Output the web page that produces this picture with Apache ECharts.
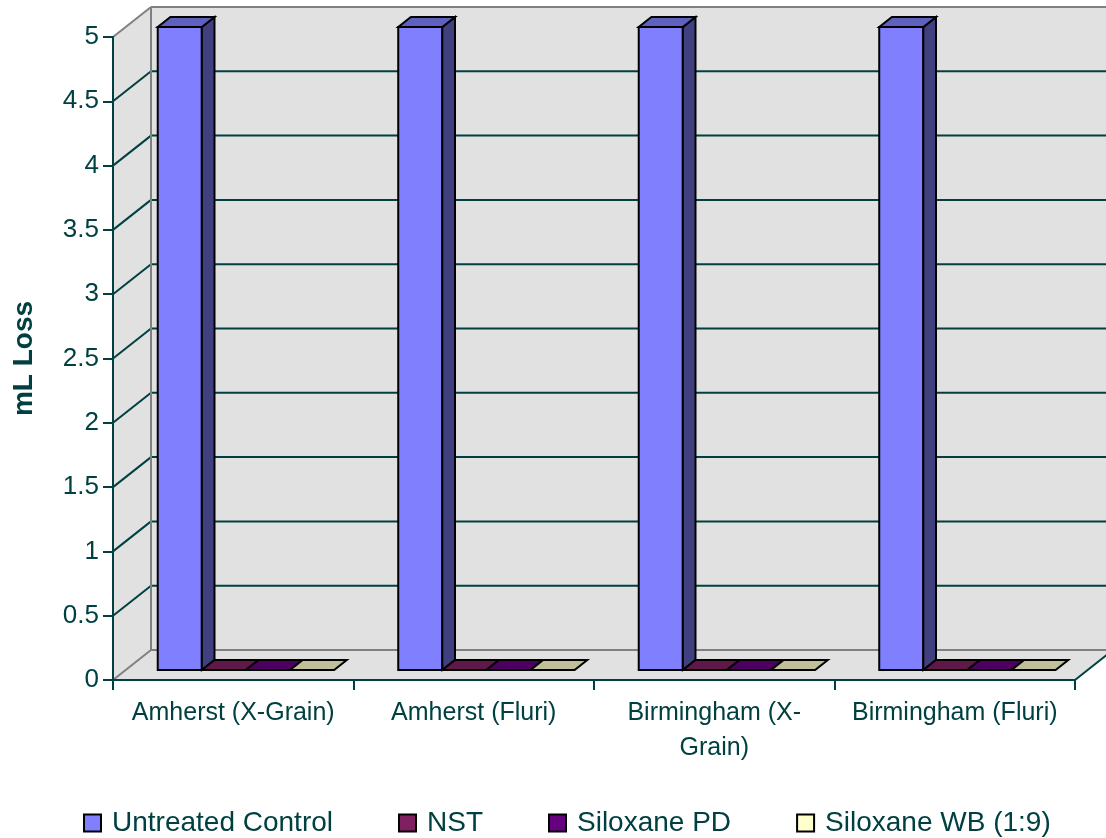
<!DOCTYPE html>
<html>
<head>
<meta charset="utf-8">
<script src="https://cdn.jsdelivr.net/npm/echarts@6/dist/echarts.min.js"></script>
<style>html,body{margin:0;padding:0;background:#fff}#c{width:1106px;height:838px}</style>
</head>
<body>
<div id="c"></div>
<script>
// ---- data ----
const categories = ['Amherst (X-Grain)', 'Amherst (Fluri)', 'Birmingham (X-\nGrain)', 'Birmingham (Fluri)'];
const seriesNames = ['Untreated Control', 'NST', 'Siloxane PD', 'Siloxane WB (1:9)'];
const untreatedControl = [5, 5, 5, 5];
const nst = [0, 0, 0, 0];
const siloxanePD = [0, 0, 0, 0];
const siloxaneWB = [0, 0, 0, 0];
const yTicks = [0, 0.5, 1, 1.5, 2, 2.5, 3, 3.5, 4, 4.5, 5];

// ---- style ----
const seriesColors = ['#8080FF', '#802060', '#660080', '#FFFFCC'];
const TEXT = '#004040';
const FONT = "'Liberation Sans', Arial, sans-serif";
const DX = 38, DY = -30;
const WALL = '#e1e1e1', EDGE = '#808080';

function shade(hex, f) {
  const n = parseInt(hex.slice(1), 16);
  const r = Math.round(((n >> 16) & 255) * f), g = Math.round(((n >> 8) & 255) * f), b = Math.round((n & 255) * f);
  return 'rgb(' + r + ',' + g + ',' + b + ')';
}

function wallsRender(params, api) {
  const cs = params.coordSys;
  const x0 = cs.x, x1 = cs.x + cs.width;
  const yb = api.coord([0, yTicks[0]])[1];
  const yt = api.coord([0, yTicks[yTicks.length - 1]])[1];
  const children = [];
  children.push({type: 'polygon', shape: {points: [[x0 + DX, yt + DY], [x1 + DX, yt + DY], [x1 + DX, yb + DY], [x0 + DX, yb + DY]]}, style: {fill: WALL, stroke: null}});
  children.push({type: 'polygon', shape: {points: [[x0, yt], [x0 + DX, yt + DY], [x0 + DX, yb + DY], [x0, yb]]}, style: {fill: WALL, stroke: null}});
  children.push({type: 'polygon', shape: {points: [[x0, yb], [x0 + DX, yb + DY], [x1 + DX, yb + DY], [x1, yb]]}, style: {fill: WALL, stroke: null}});
  yTicks.forEach(function (t, i) {
    const y = api.coord([0, t])[1];
    const edge = (i === 0 || i === yTicks.length - 1);
    const col = edge ? EDGE : TEXT;
    children.push({type: 'line', shape: {x1: x0, y1: y, x2: x0 + DX, y2: y + DY}, style: {stroke: col, lineWidth: 2}});
    children.push({type: 'line', shape: {x1: x0 + DX, y1: y + DY, x2: x1 + DX, y2: y + DY}, style: {stroke: col, lineWidth: 2}});
  });
  children.push({type: 'line', shape: {x1: x0 + DX, y1: yt + DY, x2: x0 + DX, y2: yb + DY}, style: {stroke: EDGE, lineWidth: 2}});
  children.push({type: 'line', shape: {x1: x1, y1: yb, x2: x1 + DX, y2: yb + DY}, style: {stroke: TEXT, lineWidth: 2}});
  return {type: 'group', children: children};
}

function barRender(s) {
  return function (params, api) {
    const ci = api.value(0), v = api.value(1);
    const top = api.coord([ci, v]);
    const base = api.coord([ci, 0]);
    const band = api.size([1, 0])[0];
    const w = band * 44 / 240;
    const fx = DX / 3, fy = DY / 3;
    const xl = base[0] - 2 * w + s * w + fx;
    const xr = xl + w;
    const yb = base[1] + fy;
    const yt = top[1] + fy;
    const col = seriesColors[s];
    const st = {stroke: '#000', lineWidth: 2, lineJoin: 'miter'};
    const children = [];
    if (yb - yt > 0.5) {
      children.push({type: 'polygon', shape: {points: [[xl, yt], [xr, yt], [xr, yb], [xl, yb]]}, style: Object.assign({fill: col}, st)});
      children.push({type: 'polygon', shape: {points: [[xr, yt], [xr + fx, yt + fy], [xr + fx, yb + fy], [xr, yb]]}, style: Object.assign({fill: shade(col, 0.5)}, st)});
    }
    children.push({type: 'polygon', shape: {points: [[xl, yt], [xr, yt], [xr + fx, yt + fy], [xl + fx, yt + fy]]}, style: Object.assign({fill: shade(col, 0.75)}, st)});
    return {type: 'group', children: children};
  };
}

const seriesData = [untreatedControl, nst, siloxanePD, siloxaneWB];
const series = [{
  type: 'custom', name: '_walls', z: 1, silent: true,
  renderItem: wallsRender, data: [[0, 0]], encode: {x: 0, y: 1}, legendHoverLink: false
}];
seriesData.forEach(function (arr, s) {
  series.push({
    type: 'custom', name: seriesNames[s], z: 3,
    itemStyle: {color: seriesColors[s], borderColor: '#000', borderWidth: 2},
    renderItem: barRender(s),
    encode: {x: 0, y: 1},
    data: arr.map(function (v, i) { return [i, v]; })
  });
});

const chart = echarts.init(document.getElementById('c'), null, {renderer: 'canvas'});
chart.setOption({
  animation: false,
  backgroundColor: '#ffffff',
  textStyle: {fontFamily: FONT},
  grid: {left: 113, right: 31, top: 37, bottom: 158, containLabel: false, outerBoundsMode: 'none'},
  legend: {
    data: seriesNames, left: 78, top: 804, itemGap: 65, itemWidth: 17, itemHeight: 17,
    icon: 'rect',
    itemStyle: {borderColor: '#000', borderWidth: 2},
    textStyle: {color: TEXT, fontSize: 28, fontFamily: FONT, padding: [0, 0, 0, 6]}
  },
  xAxis: {
    type: 'category', data: categories, boundaryGap: true, z: 5,
    axisLine: {lineStyle: {color: TEXT, width: 2}},
    axisTick: {show: true, length: 10, lineStyle: {color: TEXT, width: 2}},
    axisLabel: {color: TEXT, fontSize: 25, fontFamily: FONT, margin: 16, lineHeight: 35, interval: 0, align: 'center'},
    splitLine: {show: false}
  },
  yAxis: {
    type: 'value', min: 0, max: 5, interval: 0.5, z: 5,
    name: 'mL Loss', nameLocation: 'middle', nameGap: 75, nameRotate: 90,
    nameTextStyle: {color: TEXT, fontSize: 28, fontWeight: 'bold', fontFamily: FONT},
    axisLine: {show: true, lineStyle: {color: TEXT, width: 2}},
    axisTick: {show: true, length: 10, lineStyle: {color: TEXT, width: 2}},
    axisLabel: {color: TEXT, fontSize: 26, fontFamily: FONT, margin: 14},
    splitLine: {show: false}
  },
  series: series
});
</script>
</body>
</html>
